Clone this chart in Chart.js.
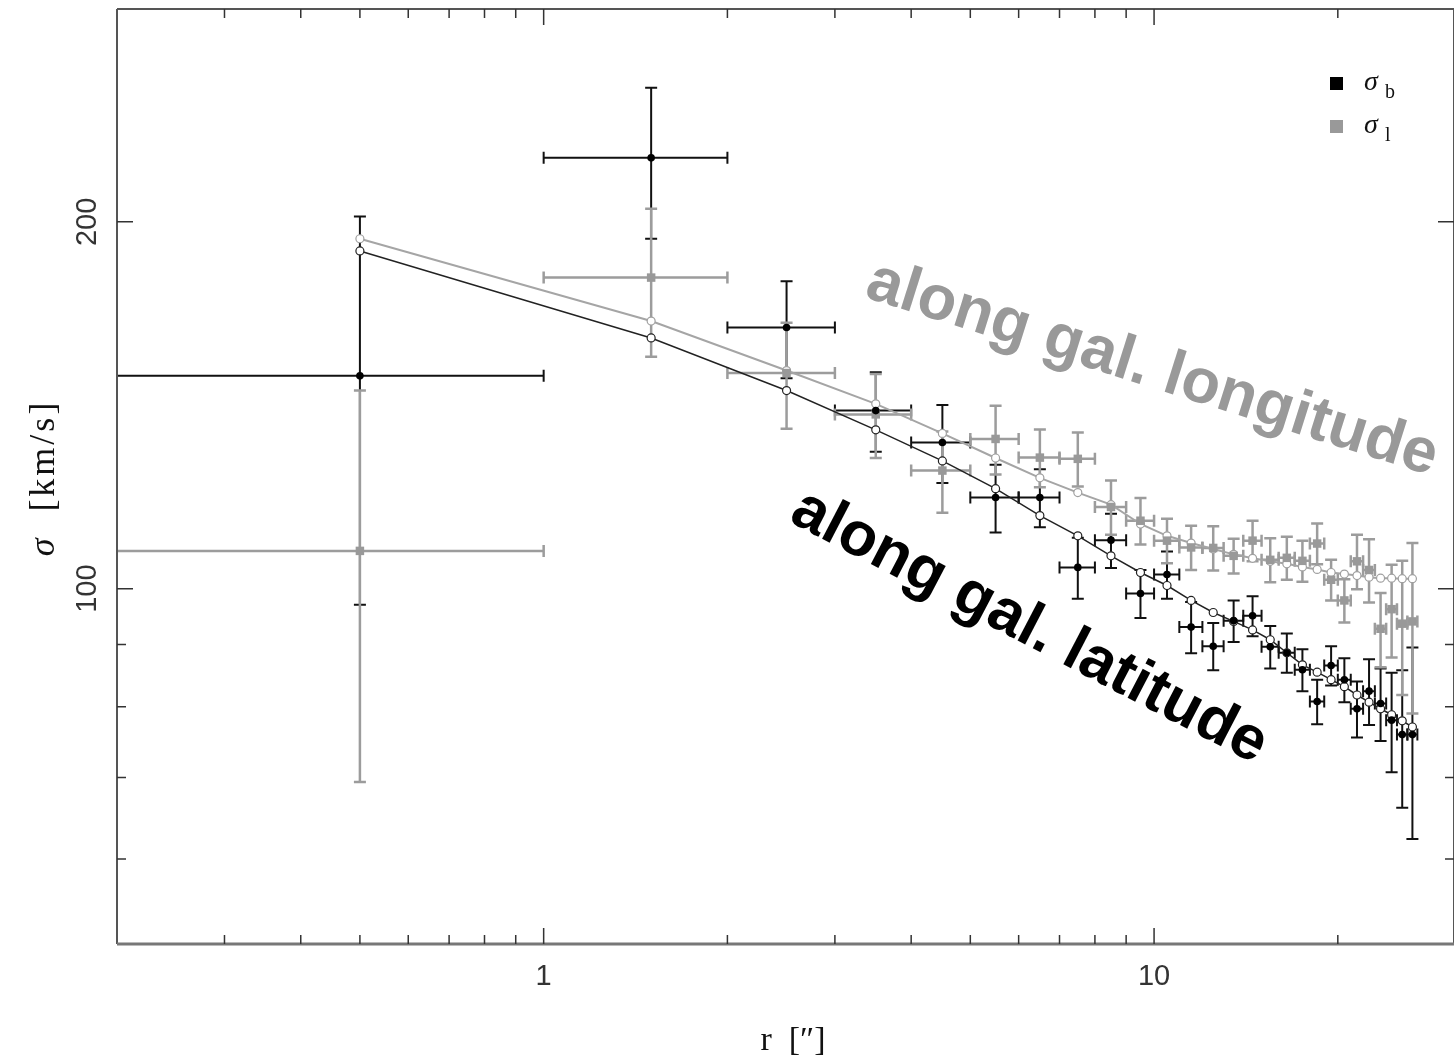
<!DOCTYPE html>
<html lang="es">

<head>
    <meta charset="UTF-8">
    <title>Dispersión de velocidades</title>
    <script src="https://cdn.jsdelivr.net/npm/chart.js@4.4.1/dist/chart.umd.min.js"></script>
    <style>
        html, body { margin: 0; padding: 0; background: #fff; overflow: hidden; }
        #contenedor { width: 1460px; height: 1059px; }
    </style>
</head>

<body>
    <div id="contenedor"><canvas id="grafico" width="1460" height="1059"></canvas></div>

    <script>
        // Radio central de cada anillo (arcsec); cada anillo mide 1"
        const radios = [0.5, 1.5, 2.5, 3.5, 4.5, 5.5, 6.5, 7.5, 8.5, 9.5, 10.5, 11.5, 12.5, 13.5,
            14.5, 15.5, 16.5, 17.5, 18.5, 19.5, 20.5, 21.5, 22.5, 23.5, 24.5, 25.5, 26.5];
        const semiAnchoAnillo = 0.5;

        // sigma_b (a lo largo de la latitud galáctica)
        const sigmaB = [149.5, 225.7, 163.8, 140.0, 131.8, 118.8, 118.8, 104.1, 109.6, 99.1, 102.7, 93.0, 89.7, 94.1,
            95.0, 89.6, 88.6, 85.8, 80.8, 86.5, 84.2, 79.7, 82.4, 80.5, 78.0, 75.9, 75.9];
        const errorB = [52.5, 32, 15, 10.5, 9.7, 7.6, 6.5, 6.0, 5.6, 4.5, 4.6, 4.5, 4.0, 3.7,
            3.6, 3.6, 3.3, 3.4, 3.4, 3.2, 3.5, 4.2, 5.1, 5.5, 7.3, 9.8, 13.6];

        // sigma_l (a lo largo de la longitud galáctica)
        const sigmaL = [107.4, 180.0, 150.3, 139.0, 125.0, 132.7, 128.1, 127.8, 116.7, 113.7, 109.5, 108.1, 108.0, 106.4,
            109.5, 105.6, 106.0, 105.4, 108.9, 101.7, 97.8, 105.3, 103.6, 92.7, 96.2, 93.6, 94.0];
        const errorL = [38, 25, 15, 11, 9.6, 8.6, 7.0, 6.5, 6.0, 5.0, 4.6, 4.5, 4.5, 3.5,
            4.2, 4.4, 4.3, 4.1, 4.2, 3.9, 4.0, 5.4, 6.2, 6.5, 8.4, 11.8, 15.0];

        // Modelos (círculos abiertos)
        const modeloB = [189.3, 160.6, 145.4, 135.0, 127.3, 120.8, 114.8, 110.5, 106.4, 103.1, 100.6, 97.8, 95.6, 94.0,
            92.5, 90.8, 88.6, 86.6, 85.4, 84.2, 83.1, 81.8, 80.7, 79.7, 78.8, 77.9, 77.0];
        const modeloL = [193.7, 165.8, 151.0, 141.8, 134.1, 128.0, 123.3, 119.9, 117.2, 113.0, 110.5, 109.0, 107.8, 106.7,
            105.9, 105.3, 104.8, 104.2, 103.7, 103.1, 102.8, 102.5, 102.2, 102.0, 102.0, 101.9, 101.9];

        // Ejes
        const rangoX = [0.2, 31];
        const rangoY = [51.1, 299];
        const marcasX = [0.3, 0.4, 0.5, 0.6, 0.7, 0.8, 0.9, 1, 2, 3, 4, 5, 6, 7, 8, 9, 10, 20];
        const etiquetasX = [1, 10];
        const marcasY = [60, 70, 80, 90, 100, 200];
        const etiquetasY = [100, 200];

        const NEGRO = '#000000';
        const GRIS = '#999999';
        const SERIF = '"Liberation Serif", "DejaVu Serif", serif';

        const puntos = (valores) => radios.map((r, i) => ({ x: r, y: valores[i] }));

        // Barras de error en x e y
        function dibujarBarras(chart, valores, errores, color, grosor) {
            const { ctx, chartArea, scales: { x, y } } = chart;
            const cap = 6;
            ctx.strokeStyle = color;
            ctx.lineWidth = grosor;
            radios.forEach((r, i) => {
                const px = x.getPixelForValue(r);
                const py = y.getPixelForValue(valores[i]);
                const yArriba = y.getPixelForValue(valores[i] + errores[i]);
                const yAbajo = y.getPixelForValue(valores[i] - errores[i]);
                const rIzq = r - semiAnchoAnillo;
                const xIzq = rIzq > 0 ? x.getPixelForValue(rIzq) : chartArea.left - 10;
                const xDer = x.getPixelForValue(r + semiAnchoAnillo);
                ctx.beginPath();
                ctx.moveTo(px, yArriba); ctx.lineTo(px, yAbajo);
                ctx.moveTo(xIzq, py); ctx.lineTo(xDer, py);
                ctx.moveTo(px - cap, yArriba); ctx.lineTo(px + cap, yArriba);
                ctx.moveTo(px - cap, yAbajo); ctx.lineTo(px + cap, yAbajo);
                if (rIzq > 0) { ctx.moveTo(xIzq, py - cap); ctx.lineTo(xIzq, py + cap); }
                ctx.moveTo(xDer, py - cap); ctx.lineTo(xDer, py + cap);
                ctx.stroke();
            });
        }

        const barrasError = {
            id: 'barrasError',
            beforeDatasetsDraw(chart) {
                const { ctx, chartArea } = chart;
                ctx.save();
                ctx.beginPath();
                ctx.rect(chartArea.left, chartArea.top, chartArea.width, chartArea.height);
                ctx.clip();
                dibujarBarras(chart, sigmaB, errorB, '#111111', 2);
                dibujarBarras(chart, sigmaL, errorL, '#9c9c9c', 2.5);
                ctx.restore();
            }
        };

        // Texto girado anclado a coordenadas de datos
        function textoGirado(chart, texto, r, s, grados, color, fuente) {
            const { ctx, scales: { x, y } } = chart;
            ctx.save();
            ctx.translate(x.getPixelForValue(r), y.getPixelForValue(s));
            ctx.rotate(grados * Math.PI / 180);
            ctx.font = fuente;
            ctx.fillStyle = color;
            ctx.textAlign = 'left';
            ctx.textBaseline = 'alphabetic';
            ctx.fillText(texto, 0, 0);
            ctx.restore();
        }

        // Marco, marcas hacia dentro, etiquetas, leyenda y anotaciones
        const ejes = {
            id: 'ejes',
            afterDatasetsDraw(chart) {
                const { ctx, chartArea: a, scales: { x, y } } = chart;
                ctx.save();

                // marco
                ctx.strokeStyle = '#555';
                ctx.lineWidth = 2;
                ctx.beginPath();
                ctx.moveTo(a.left, a.top); ctx.lineTo(a.left, a.bottom);
                ctx.moveTo(a.left, a.top); ctx.lineTo(a.right, a.top);
                ctx.moveTo(a.right, a.top); ctx.lineTo(a.right, a.bottom);
                ctx.stroke();
                ctx.strokeStyle = '#777';
                ctx.lineWidth = 3;
                ctx.beginPath();
                ctx.moveTo(a.left, a.bottom); ctx.lineTo(a.right, a.bottom);
                ctx.stroke();

                // marcas
                ctx.strokeStyle = '#333';
                ctx.lineWidth = 1.5;
                ctx.beginPath();
                marcasX.forEach(v => {
                    const px = x.getPixelForValue(v);
                    const largo = etiquetasX.includes(v) ? 16 : 9;
                    ctx.moveTo(px, a.bottom); ctx.lineTo(px, a.bottom - largo);
                    ctx.moveTo(px, a.top); ctx.lineTo(px, a.top + largo);
                });
                marcasY.forEach(v => {
                    const py = y.getPixelForValue(v);
                    const largo = etiquetasY.includes(v) ? 16 : 9;
                    ctx.moveTo(a.left, py); ctx.lineTo(a.left + largo, py);
                    ctx.moveTo(a.right, py); ctx.lineTo(a.right - largo, py);
                });
                ctx.stroke();

                // etiquetas de las marcas
                ctx.fillStyle = '#333';
                ctx.font = '29px "Liberation Sans", Arial, sans-serif';
                ctx.textAlign = 'center';
                ctx.textBaseline = 'middle';
                etiquetasX.forEach(v => ctx.fillText(String(v), x.getPixelForValue(v), a.bottom + 33));
                etiquetasY.forEach(v => {
                    ctx.save();
                    ctx.translate(a.left - 29, y.getPixelForValue(v));
                    ctx.rotate(-Math.PI / 2);
                    ctx.fillText(String(v), 0, 0);
                    ctx.restore();
                });

                // títulos de los ejes
                ctx.fillStyle = '#111';
                ctx.save();
                ctx.translate(54, 478);
                ctx.rotate(-Math.PI / 2);
                ctx.textBaseline = 'alphabetic';
                ctx.letterSpacing = '3px';
                ctx.font = 'italic 36px ' + SERIF;
                const wSigma = ctx.measureText('σ').width;
                ctx.font = '36px ' + SERIF;
                const restoY = '  [km/s]';
                const wResto = ctx.measureText(restoY).width;
                const inicio = -(wSigma + wResto) / 2;
                ctx.textAlign = 'left';
                ctx.font = 'italic 36px ' + SERIF;
                ctx.fillText('σ', inicio, 0);
                ctx.font = '36px ' + SERIF;
                ctx.fillText(restoY, inicio + wSigma, 0);
                ctx.restore();

                ctx.font = '34px ' + SERIF;
                ctx.textAlign = 'center';
                ctx.textBaseline = 'alphabetic';
                ctx.fillText('r  [\u2033]', 793, 1050);

                // leyenda
                const filas = [
                    { color: NEGRO, sub: 'b', y: 84 },
                    { color: GRIS, sub: 'l', y: 127 }
                ];
                filas.forEach(f => {
                    ctx.fillStyle = f.color;
                    ctx.fillRect(1330, f.y - 7, 13, 13);
                    ctx.fillStyle = '#111';
                    ctx.textAlign = 'left';
                    ctx.font = 'italic 28px ' + SERIF;
                    ctx.fillText('σ', 1364, f.y + 6);
                    ctx.font = '20px ' + SERIF;
                    ctx.fillText(f.sub, 1385, f.y + 14);
                });

                // anotaciones
                textoGirado(chart, 'along gal. longitude', 3.34, 173.6, 17.5, GRIS,
                    'bold 63px "Liberation Sans", Arial, sans-serif');
                textoGirado(chart, 'along gal. latitude', 2.51, 113.7, 27.5, NEGRO,
                    'bold 62px "Liberation Sans", Arial, sans-serif');

                ctx.restore();
            }
        };

        new Chart(document.getElementById('grafico').getContext('2d'), {
            type: 'scatter',
            data: {
                datasets: [
                    {
                        label: 'modelo b',
                        data: puntos(modeloB),
                        showLine: true,
                        borderColor: '#222',
                        borderWidth: 1.5,
                        pointStyle: 'circle',
                        pointRadius: 4,
                        pointBackgroundColor: '#fff',
                        pointBorderColor: '#222',
                        pointBorderWidth: 1.2,
                        order: 4
                    },
                    {
                        label: 'modelo l',
                        data: puntos(modeloL),
                        showLine: true,
                        borderColor: '#a5a5a5',
                        borderWidth: 2,
                        pointStyle: 'circle',
                        pointRadius: 4,
                        pointBackgroundColor: '#fff',
                        pointBorderColor: '#a0a0a0',
                        pointBorderWidth: 1.2,
                        order: 3
                    },
                    {
                        label: 'σb',
                        data: puntos(sigmaB),
                        pointStyle: 'circle',
                        pointRadius: 3.8,
                        backgroundColor: NEGRO,
                        borderColor: NEGRO,
                        borderWidth: 0,
                        order: 1
                    },
                    {
                        label: 'σl',
                        data: puntos(sigmaL),
                        pointStyle: 'rect',
                        pointRadius: 6,
                        backgroundColor: GRIS,
                        borderColor: GRIS,
                        borderWidth: 0,
                        order: 2
                    }
                ]
            },
            options: {
                responsive: false,
                animation: false,
                layout: { padding: { left: 117, top: 9, right: 0, bottom: 115 } },
                scales: {
                    x: { type: 'logarithmic', min: rangoX[0], max: rangoX[1], display: false },
                    y: { type: 'logarithmic', min: rangoY[0], max: rangoY[1], display: false }
                },
                plugins: {
                    legend: { display: false },
                    tooltip: { enabled: false }
                }
            },
            plugins: [barrasError, ejes]
        });
    </script>
</body>

</html>
